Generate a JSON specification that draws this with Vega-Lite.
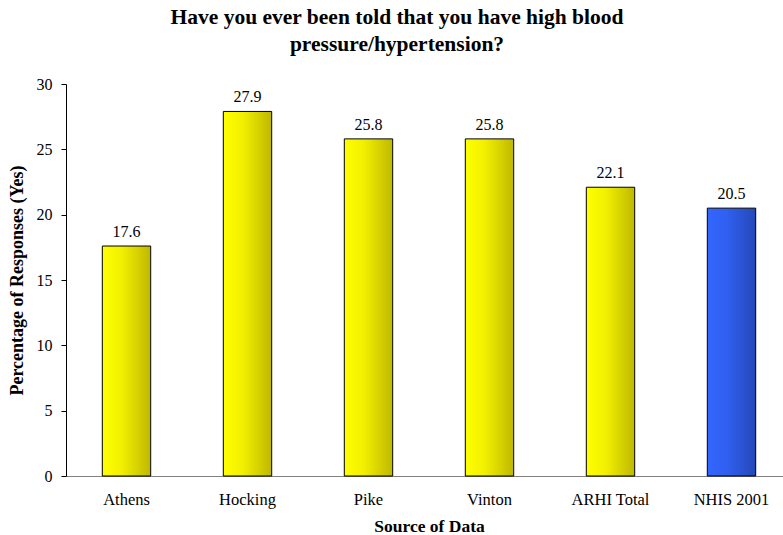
{
  "$schema": "https://vega.github.io/schema/vega-lite/v6.json",
  "autosize": "none",
  "width": 726,
  "height": 392,
  "padding": {"left": 66, "top": 84, "right": 0, "bottom": 59},
  "background": "white",
  "config": {"view": {"stroke": null}, "font": "Liberation Serif"},
  "title": {
    "text": ["Have you ever been told that you have high blood", "pressure/hypertension?"],
    "font": "Liberation Serif",
    "fontSize": 21.5,
    "fontWeight": "bold",
    "color": "black",
    "anchor": "middle",
    "dx": -32,
    "offset": 21,
    "lineHeight": 27
  },
  "data": {
    "values": [
      {"source": "Athens", "pct": 17.6},
      {"source": "Hocking", "pct": 27.9},
      {"source": "Pike", "pct": 25.8},
      {"source": "Vinton", "pct": 25.8},
      {"source": "ARHI Total", "pct": 22.1},
      {"source": "NHIS 2001", "pct": 20.5}
    ]
  },
  "encoding": {
    "x": {
      "field": "source",
      "type": "nominal",
      "sort": null,
      "scale": {"paddingInner": 0.6, "paddingOuter": 0.3},
      "axis": {
        "title": "Source of Data",
        "titleFont": "Liberation Serif",
        "titleFontSize": 17.5,
        "titleFontWeight": "bold",
        "titleColor": "black",
        "titlePadding": 10,
        "labelAngle": 0,
        "labelFont": "Liberation Serif",
        "labelFontSize": 16.5,
        "labelColor": "black",
        "labelPadding": 15,
        "ticks": false,
        "domainColor": "#808080",
        "domainWidth": 1
      }
    },
    "y": {
      "field": "pct",
      "type": "quantitative",
      "scale": {"domain": [0, 30]},
      "axis": {
        "title": "Percentage of Responses (Yes)",
        "titleFont": "Liberation Serif",
        "titleFontSize": 18,
        "titleFontWeight": "bold",
        "titleColor": "black",
        "titlePadding": 10,
        "values": [0, 5, 10, 15, 20, 25, 30],
        "grid": false,
        "labelFont": "Liberation Serif",
        "labelFontSize": 16,
        "labelColor": "black",
        "labelPadding": 9,
        "tickSize": 5,
        "tickColor": "black",
        "domainColor": "black"
      }
    }
  },
  "layer": [
    {
      "mark": {"type": "bar", "stroke": "black", "strokeWidth": 1},
      "encoding": {
        "fill": {
          "condition": {
            "test": "datum.source === 'NHIS 2001'",
            "value": {
              "gradient": "linear", "x1": 0, "x2": 1, "y1": 0, "y2": 0,
              "stops": [{"offset": 0, "color": "#3366ff"}, {"offset": 0.4, "color": "#3060f0"}, {"offset": 1, "color": "#2648b8"}]
            }
          },
          "value": {
            "gradient": "linear", "x1": 0, "x2": 1, "y1": 0, "y2": 0,
            "stops": [{"offset": 0, "color": "#ffff00"}, {"offset": 0.4, "color": "#f2f000"}, {"offset": 1, "color": "#bfb800"}]
          }
        }
      }
    },
    {
      "mark": {"type": "text", "baseline": "bottom", "dy": -6, "font": "Liberation Serif", "fontSize": 16, "color": "black"},
      "encoding": {
        "text": {"field": "pct", "type": "quantitative", "format": ".1f"}
      }
    }
  ]
}
